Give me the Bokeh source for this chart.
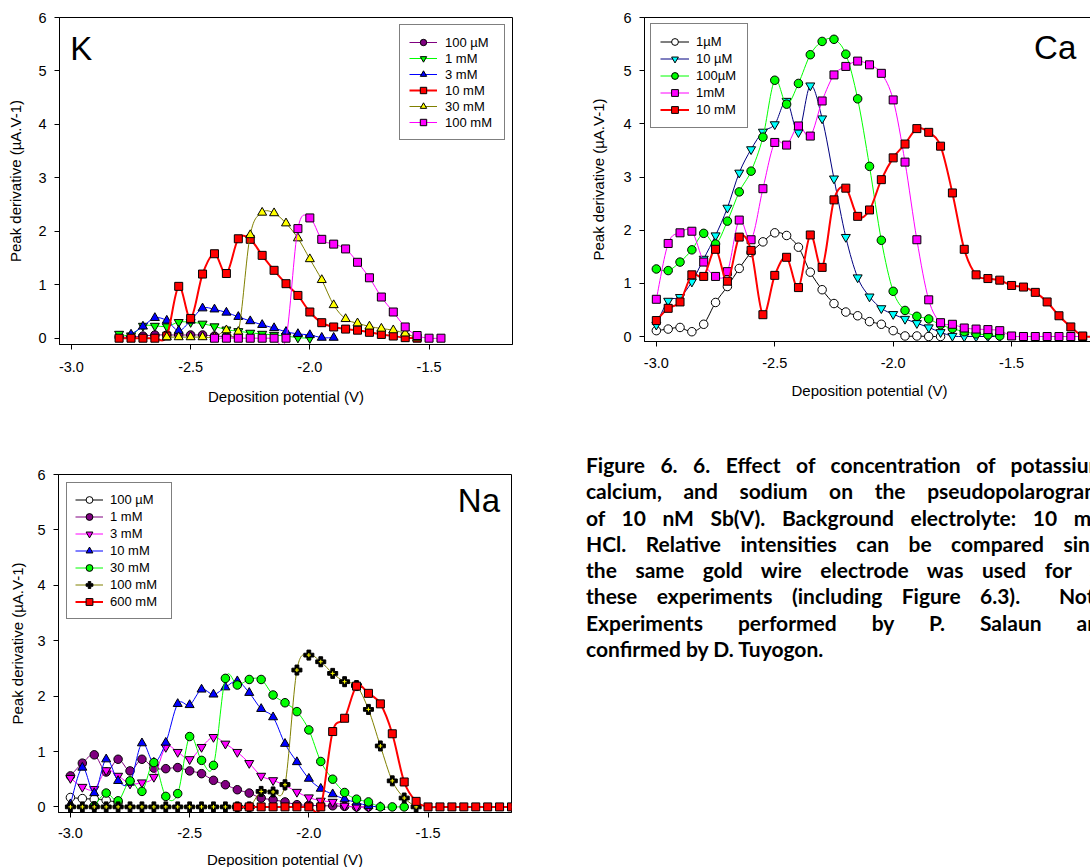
from bokeh.plotting import figure
from bokeh.layouts import row, column
from bokeh.models import (Range1d, Legend, LegendItem, Label, FixedTicker,
                          NumeralTickFormatter, Div)
from bokeh.embed import file_html
from bokeh.resources import INLINE

FONT = "Liberation Sans"

# ---------------- data ----------------
POT = [-3.0, -2.95, -2.9, -2.85, -2.8, -2.75, -2.7, -2.65, -2.6, -2.55, -2.5, -2.45,
       -2.4, -2.35, -2.3, -2.25, -2.2, -2.15, -2.1, -2.05, -2.0, -1.95, -1.9, -1.85,
       -1.8, -1.75, -1.7, -1.65, -1.6, -1.55, -1.5, -1.45, -1.4, -1.35, -1.3, -1.25,
       -1.2, -1.15]
X_TICKS = [-3.0, -2.5, -2.0, -1.5]
Y_TICKS = [0, 1, 2, 3, 4, 5, 6]

# Potassium (start potential, values)
k_100uM_start = -2.8
k_100uM = [0.02, 0.02, 0.04, 0.06, 0.06, 0.06, 0.06, 0.06, 0.04, 0.03, 0.02]
k_1mM_start = -2.8
k_1mM = [0.08, 0.05, 0.23, 0.23, 0.22, 0.30, 0.30, 0.27, 0.22, 0.16, 0.13, 0.10, 0.08,
         0.06, 0.04, 0.01, 0.0]
k_3mM_start = -2.75
k_3mM = [0.07, 0.22, 0.38, 0.33, 0.14, 0.33, 0.56, 0.54, 0.48, 0.40, 0.32, 0.25, 0.19,
         0.12, 0.08, 0.06, 0.01, 0.01]
k_10mM_start = -2.8
k_10mM = [0.0, 0.0, 0.0, 0.0, 0.04, 0.97, 0.37, 1.20, 1.58, 1.21, 1.86, 1.85, 1.55, 1.27,
          1.02, 0.80, 0.49, 0.29, 0.21, 0.17, 0.15, 0.11, 0.07, 0.04, 0.01, 0.0]
k_30mM_start = -2.6
k_30mM = [0.02, 0.02, 0.02, 0.02, 0.02, 0.15, 0.12, 1.93, 2.35, 2.34, 2.15, 1.87, 1.48,
          1.09, 0.62, 0.36, 0.28, 0.22, 0.18, 0.15, 0.09, 0.0]
k_100mM_start = -2.4
k_100mM = [0.0, 0.0, 0.0, 0.0, 0.0, 0.0, 0.0, 2.05, 2.25, 1.85, 1.76, 1.67, 1.42, 1.13,
           0.77, 0.49, 0.21, 0.05, 0.0, 0.0]
K_LABELS = ["100 µM", "1 mM", "3 mM", "10 mM", "30 mM", "100 mM"]

# Calcium (all start at -3.0)
ca_1uM = [0.11, 0.14, 0.17, 0.09, 0.23, 0.64, 0.94, 1.28, 1.58, 1.78, 1.95, 1.90, 1.68,
          1.21, 0.88, 0.62, 0.46, 0.39, 0.28, 0.23, 0.11, 0.01, 0.01, 0.0, 0.0]
ca_10uM = [0.22, 0.67, 0.74, 1.03, 1.46, 1.90, 2.42, 3.08, 3.52, 3.85, 3.99, 4.43, 3.84,
           4.72, 4.10, 2.97, 1.87, 1.11, 0.75, 0.53, 0.42, 0.33, 0.25, 0.17, 0.08, 0.01,
           0.0, 0.0, 0.0, 0.0]
ca_100uM = [1.27, 1.24, 1.40, 1.63, 1.94, 1.74, 2.17, 2.72, 3.11, 3.75, 4.82, 4.37, 4.76,
            5.30, 5.55, 5.59, 5.31, 4.47, 3.20, 1.81, 0.85, 0.49, 0.38, 0.33, 0.22, 0.15,
            0.09, 0.05, 0.03, 0.01]
ca_1mM = [0.70, 1.75, 1.95, 1.98, 1.40, 1.13, 1.22, 2.19, 1.82, 2.78, 3.65, 3.60, 3.96,
          3.77, 4.43, 4.92, 5.08, 5.18, 5.11, 4.95, 4.45, 3.28, 1.82, 0.69, 0.26, 0.23,
          0.16, 0.14, 0.13, 0.11, 0.01, 0.0, 0.0, 0.0, 0.0, 0.0, 0.0, 0.0]
ca_10mM = [0.30, 0.53, 0.65, 1.16, 1.13, 1.64, 1.04, 1.87, 1.62, 0.41, 1.15, 1.49, 0.92,
           1.91, 1.30, 2.57, 2.79, 2.26, 2.38, 2.95, 3.36, 3.62, 3.91, 3.84, 3.58, 2.70,
           1.64, 1.16, 1.09, 1.06, 0.96, 0.93, 0.83, 0.65, 0.39, 0.18, 0.01, 0.0]
CA_LABELS = ["1µM", "10 µM", "100µM", "1mM", "10 mM"]

# Sodium
na_100uM_start = -3.0
na_100uM = [0.17, 0.15, 0.14, 0.12, 0.08]
na_1mM_start = -3.0
na_1mM = [0.56, 0.79, 0.94, 0.63, 0.86, 0.65, 0.86, 0.70, 0.69, 0.71, 0.65, 0.60, 0.48,
          0.40, 0.31, 0.25, 0.16, 0.13, 0.09, 0.04, 0.03, 0.02, 0.02, 0.01, 0.0, 0.0]
na_3mM_start = -3.0
na_3mM = [0.52, 0.36, 0.32, 0.66, 0.56, 0.42, 0.44, 0.54, 1.08, 0.99, 0.86, 1.08, 1.26,
          1.14, 0.99, 0.79, 0.56, 0.48, 0.39, 0.27, 0.17, 0.11, 0.09, 0.02, 0.0, 0.0]
na_10mM_start = -3.0
na_10mM = [0.05, 0.71, 0.25, 0.86, 0.47, 0.44, 1.15, 0.80, 1.16, 1.86, 1.84, 2.12, 2.03,
           2.16, 2.27, 2.06, 1.77, 1.62, 1.14, 0.81, 0.51, 0.33, 0.23, 0.14, 0.08, 0.02,
           0.0]
na_30mM_start = -2.9
na_30mM = [0.02, 0.25, 0.11, 0.47, 0.28, 0.80, 0.19, 0.24, 1.27, 0.84, 0.75, 2.32, 2.20,
           2.30, 2.30, 2.02, 1.88, 1.72, 1.39, 0.82, 0.50, 0.26, 0.14, 0.09, 0.0, 0.0, 0.0]
na_100mM_start = -3.0
na_100mM = [0.0, 0.0, 0.0, 0.0, 0.0, 0.0, 0.0, 0.0, 0.0, 0.0, 0.0, 0.0, 0.0, 0.0, 0.0,
            0.0, 0.28, 0.27, 0.40, 2.47, 2.74, 2.62, 2.41, 2.26, 2.19, 1.76, 1.10, 0.47,
            0.16, 0.0]
na_600mM_start = -2.3
na_600mM = [0.0, 0.0, 0.0, 0.0, 0.0, 0.0, 0.0, 0.0, 1.36, 1.60, 2.18, 2.05, 1.86, 1.32,
            0.45, 0.10, 0.0, 0.0, 0.0, 0.0, 0.0, 0.0, 0.0, 0.0]
NA_LABELS = ["100 µM", "1 mM", "3 mM", "10 mM", "30 mM", "100 mM", "600 mM"]

X_TITLE = "Deposition potential (V)"
Y_TITLE = "Peak derivative (µA.V-1)"

CAPTION = [
    "Figure 6. 6. Effect of concentration of potassium,",
    "calcium, and sodium on the pseudopolarograms",
    "of 10 nM Sb(V). Background electrolyte: 10 mM",
    "HCl. Relative intensities can be compared since",
    "the same gold wire electrode was used for all",
    "these experiments (including Figure 6.3).&nbsp; Note:",
    "Experiments performed by P. Salaun and",
    "confirmed by D. Tuyogon.",
]


# ---------------- helpers ----------------
def xs_for(start, vals):
    i = POT.index(start)
    return POT[i:i + len(vals)]


def spline_segments(xs, ys):
    n = len(xs)
    d = dict(x0=[], y0=[], x1=[], y1=[], cx0=[], cy0=[], cx1=[], cy1=[])
    for i in range(n - 1):
        a = max(i - 1, 0)
        b = min(i + 2, n - 1)
        d["x0"].append(xs[i]); d["y0"].append(ys[i])
        d["x1"].append(xs[i + 1]); d["y1"].append(ys[i + 1])
        d["cx0"].append(xs[i] + (xs[i + 1] - xs[a]) / 6.0)
        d["cy0"].append(ys[i] + (ys[i + 1] - ys[a]) / 6.0)
        d["cx1"].append(xs[i + 1] - (xs[b] - xs[i]) / 6.0)
        d["cy1"].append(ys[i + 1] - (ys[b] - ys[i]) / 6.0)
    return d


def add_series(p, start, vals, marker, fill, lc, lw, size):
    xs = xs_for(start, vals)
    r_line = p.bezier(**spline_segments(xs, vals), line_color=lc, line_width=lw)
    r_pts = p.scatter(xs, vals, marker=marker, size=size, fill_color=fill,
                      line_color="black", line_width=1)
    return [r_line, r_pts]


def make_fig(ymin, mbl, fw, mbr, mbt, fh, mbb, xstand, xlabstand, ylabstand):
    p = figure(frame_width=fw, frame_height=fh, min_border_left=mbl,
               min_border_right=mbr, min_border_top=mbt, min_border_bottom=mbb,
               x_range=Range1d(-3.05, -1.15), y_range=Range1d(ymin, 6.0),
               output_backend="svg", toolbar_location=None, tools="", title=None)
    p.xgrid.visible = False
    p.ygrid.visible = False
    p.outline_line_color = "black"
    p.outline_line_width = 1
    p.background_fill_color = "white"
    p.border_fill_color = "white"
    p.xaxis.ticker = FixedTicker(ticks=X_TICKS)
    p.xaxis.formatter = NumeralTickFormatter(format="0.0")
    p.yaxis.ticker = FixedTicker(ticks=Y_TICKS)
    p.yaxis.formatter = NumeralTickFormatter(format="0")
    for ax in (p.xaxis[0], p.yaxis[0]):
        ax.axis_line_color = "black"
        ax.major_tick_line_color = "black"
        ax.major_tick_in = 0
        ax.major_tick_out = 5
        ax.minor_tick_line_color = None
        ax.major_label_text_font = FONT
        ax.major_label_text_font_size = "14.5px"
        ax.major_label_text_color = "black"
        ax.axis_label_text_font = FONT
        ax.axis_label_text_font_size = "15px"
        ax.axis_label_text_font_style = "normal"
        ax.axis_label_text_color = "black"
    p.xaxis.axis_label = X_TITLE
    p.yaxis.axis_label = Y_TITLE
    p.xaxis.major_label_standoff = xstand
    p.xaxis.axis_label_standoff = xlabstand
    p.yaxis.major_label_standoff = 8
    p.yaxis.axis_label_standoff = ylabstand
    return p


def add_legend(p, items, loc, margin, pad, glyph_w, glyph_h, label_w, standoff):
    leg = Legend(items=items, location=loc, margin=margin, padding=pad, spacing=0,
                 glyph_width=glyph_w, glyph_height=glyph_h, label_height=glyph_h,
                 label_width=label_w, label_standoff=standoff,
                 label_text_font=FONT, label_text_font_size="13px",
                 label_text_color="black",
                 border_line_color="black", border_line_width=1,
                 background_fill_color="white", background_fill_alpha=1.0)
    p.add_layout(leg)


def big_label(p, x, y, txt):
    p.add_layout(Label(x=x, y=y, text=txt, text_font=FONT, text_font_size="33px",
                       text_color="black", text_baseline="alphabetic"))


# ---------------- K ----------------
pk = make_fig(-0.118, 59, 453, 75, 17, 327, 84, 12, 13, 11)
k_series = [
    (k_100uM_start, k_100uM, "circle", "#800080", "#800080", 1, 8.5),
    (k_1mM_start, k_1mM, "inverted_triangle", "#00ff00", "#00ff00", 1, 9),
    (k_3mM_start, k_3mM, "triangle", "#0000ff", "#0000ff", 1, 9),
    (k_10mM_start, k_10mM, "square", "#ff0000", "#ff0000", 2, 8),
    (k_30mM_start, k_30mM, "triangle", "#ffff00", "#808000", 1, 9),
    (k_100mM_start, k_100mM, "square", "#ff00ff", "#ff00ff", 1, 8),
]
k_items = []
for lab, (st, vals, mk, fc, lc, lw, sz) in zip(K_LABELS, k_series):
    k_items.append(LegendItem(label=lab, renderers=add_series(pk, st, vals, mk, fc, lc, lw, sz)))
add_legend(pk, k_items, "top_right", 7, 9, 28, 16, 50, 8)
big_label(pk, -3.005, 5.42, "K")

# ---------------- Ca ----------------
pc = make_fig(-0.094, 52, 450, 1, 17, 324, 87, 11, 11, 13)
ca_series = [
    (ca_1uM, "circle", "white", "black", 1, 8.5),
    (ca_10uM, "inverted_triangle", "#00ffff", "#000080", 1, 9),
    (ca_100uM, "circle", "#00ff00", "#00ff00", 1, 8.5),
    (ca_1mM, "square", "#ff00ff", "#ff00ff", 1, 8),
    (ca_10mM, "square", "#ff0000", "#ff0000", 2, 8),
]
ca_items = []
for lab, (vals, mk, fc, lc, lw, sz) in zip(CA_LABELS, ca_series):
    ca_items.append(LegendItem(label=lab, renderers=add_series(pc, -3.0, vals, mk, fc, lc, lw, sz)))
add_legend(pc, ca_items, "top_left", 6, 9, 29, 17, 42, 7)
big_label(pc, -1.405, 5.44, "Ca")

# ---------------- Na ----------------
pn = make_fig(-0.101, 58, 453, 35, 46, 338, 55, 10, 10, 8)
na_series = [
    (na_100uM_start, na_100uM, "circle", "white", "black", 1, 8.5),
    (na_1mM_start, na_1mM, "circle", "#800080", "#800080", 1, 8.5),
    (na_3mM_start, na_3mM, "inverted_triangle", "#ff00ff", "#ff00ff", 1, 9),
    (na_10mM_start, na_10mM, "triangle", "#0000ff", "#0000ff", 1, 9),
    (na_30mM_start, na_30mM, "circle", "#00ff00", "#00ff00", 1, 8.5),
    (na_100mM_start, na_100mM, "plus", "black", "#808000", 1, 10),
    (na_600mM_start, na_600mM, "square", "#ff0000", "#ff0000", 2, 8),
]
na_items = []
for lab, (st, vals, mk, fc, lc, lw, sz) in zip(NA_LABELS, na_series):
    rs = add_series(pn, st, vals, mk, fc, lc, lw, sz)
    if lab == "100 mM":
        pn.scatter(xs_for(st, vals), vals, marker="cross", size=4, line_color="#ffff00",
                   line_width=1)
    na_items.append(LegendItem(label=lab, renderers=rs))
add_legend(pn, na_items, "top_left", 8, 8, 28, 17, 53, 7)
big_label(pn, -1.375, 5.53, "Na")

# ---------------- caption ----------------
line_css = "text-align: justify; text-align-last: justify; white-space: normal;"
parts = []
for i, ln in enumerate(CAPTION):
    css = line_css if i < len(CAPTION) - 1 else "text-align: left;"
    parts.append('<div style="%s">%s</div>' % (css, ln))
cap_html = ('<div style="box-sizing: content-box; margin: 0; padding: 24px 0 0 40px; '
            'width: 525px; font-family: Lato, sans-serif; font-weight: bold; '
            'font-size: 21px; line-height: 26.3px; color: black;">'
            + "".join(parts) + "</div>")
cap = Div(text=cap_html, width=544, height=439, margin=0,
          styles={"overflow": "hidden", "background-color": "white"})

root = column(row(pk, pc), row(pn, cap))
open("out.html", "w").write(file_html(root, INLINE))
